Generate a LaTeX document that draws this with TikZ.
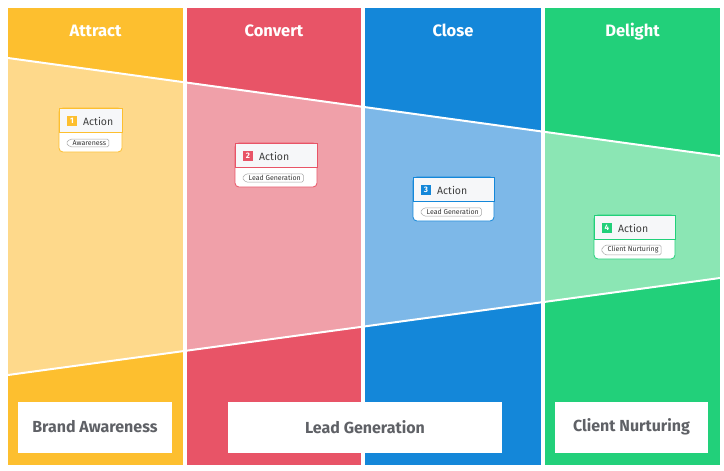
\documentclass[tikz,border=0pt]{standalone}
\usepackage{fontspec}
\setmainfont{Fira Sans}
\usetikzlibrary{calc}
\definecolor{cA}{HTML}{FDBF2F}
\definecolor{cAl}{HTML}{FED98B}
\definecolor{cB}{HTML}{E85467}
\definecolor{cBl}{HTML}{F0A0A9}
\definecolor{cC}{HTML}{1487D9}
\definecolor{cCl}{HTML}{7DB8E8}
\definecolor{cD}{HTML}{22D07A}
\definecolor{cDl}{HTML}{8BE6B4}
\definecolor{txtgray}{HTML}{5F6166}
\definecolor{cardtop}{HTML}{F6F7F9}
\tikzset{
  header/.style={text=white, font=\fontsize{16.5}{19}\selectfont\bfseries, inner sep=0pt, anchor=base},
  stagebox/.style={fill=white, draw=none, inner sep=0pt, text=txtgray, font=\fontsize{16}{19}\selectfont\bfseries},
  badge/.style={fill=#1, text=white, font=\fontsize{8}{9}\selectfont\bfseries, minimum width=10pt, minimum height=10pt, inner sep=0pt},
  actiontext/.style={text=black!75, font=\fontsize{10.5}{12}\selectfont, inner sep=0pt, anchor=west},
  tagtext/.style={text=black!80, font=\fontsize{7}{8}\selectfont, inner xsep=2.5pt, inner ysep=1.2pt, anchor=west},
  funnelline/.style={white, line width=2pt},
}
\newcommand\actioncard[7]{%
  \begin{scope}[shift={(#1,#2)}]
    \draw[#4, fill=white, line width=0.8pt, rounded corners=4pt] (0,0) rectangle (#3,44);
    \draw[#4, fill=cardtop, line width=0.8pt] (0,0) rectangle (#3,24);
    \node[badge=#4] (#7b) at (13,12.5) {#5};
    \node[actiontext] (#7a) at (24,13) {Action};
    \node[tagtext] (#7t) at (11,35) {#6};
    \draw[black!35, line width=0.5pt, rounded corners=1.5pt] (#7t.north east) -- (#7t.north west) -- ($(#7t.west)+(-4,0)$) -- (#7t.south west) -- (#7t.south east) -- cycle;
  \end{scope}}
\begin{document}
\begin{tikzpicture}[x=1pt,y=-1pt]
\useasboundingbox (0,0) rectangle (724,471);
\fill[white] (0,0) rectangle (724,471);
% columns
\fill[cA] (8,8) rectangle (183,465);
\fill[cB] (187,8) rectangle (361,465);
\fill[cC] (365,8) rectangle (541,465);
\fill[cD] (545,8) rectangle (720,465);
% funnel light parts
\coordinate (ft0) at (8,58);
\coordinate (ft1) at (720,156);
\coordinate (fb0) at (8,375);
\coordinate (fb1) at (720,278);
\begin{scope}
  \clip (ft0) -- (ft1) -- (fb1) -- (fb0) -- cycle;
  \fill[cAl] (8,8) rectangle (183,465);
  \fill[cBl] (187,8) rectangle (361,465);
  \fill[cCl] (365,8) rectangle (541,465);
  \fill[cDl] (545,8) rectangle (720,465);
\end{scope}
\draw[funnelline] (ft0) -- (ft1);
\draw[funnelline] (fb0) -- (fb1);
% headers
\node[header] (h1) at (95.5,36) {Attract};
\node[header] (h2) at (274,36) {Convert};
\node[header] (h3) at (453,36) {Close};
\node[header] (h4) at (632.5,36) {Delight};
% cards
\actioncard{59}{108}{63}{cA}{1}{Awareness}{k1}
\actioncard{235}{143}{82}{cB}{2}{Lead Generation}{k2}
\actioncard{413}{177}{81}{cC}{3}{Lead Generation}{k3}
\actioncard{594}{215}{81}{cD}{4}{Client Nurturing}{k4}
% stage boxes
\node[stagebox, minimum width=154pt, minimum height=51pt] (s1) at (95,427) {Brand Awareness};
\node[stagebox, minimum width=274pt, minimum height=51pt] (s2) at (365,427) {Lead Generation};
\node[stagebox, minimum width=153pt, minimum height=51pt] (s3) at (631.5,427) {Client Nurturing};
\end{tikzpicture}
\end{document}
